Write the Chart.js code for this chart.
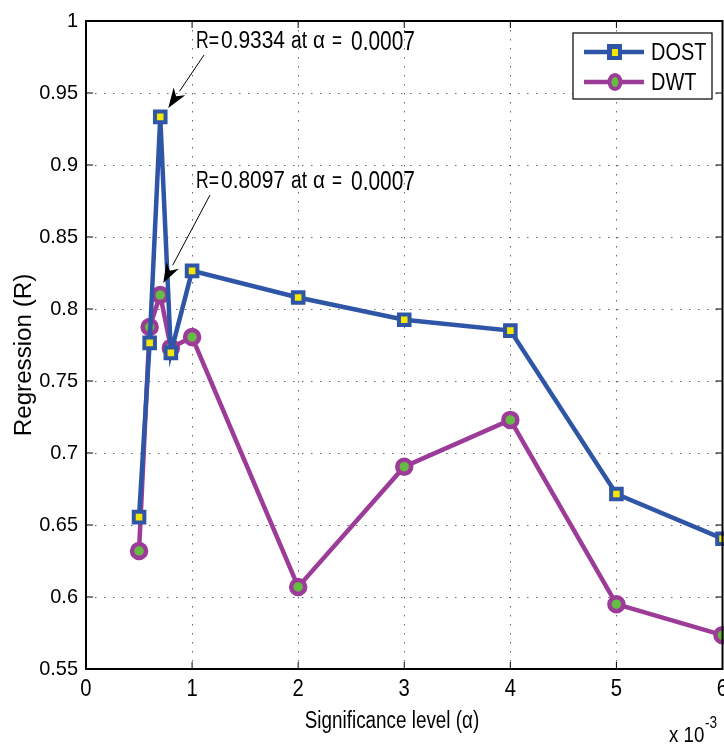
<!DOCTYPE html>
<html>
<head>
<meta charset="utf-8">
<script src="https://cdn.jsdelivr.net/npm/chart.js@4.4.1/dist/chart.umd.min.js"></script>
<style>
  html, body { margin: 0; padding: 0; background: #fff; overflow: hidden; }
  #wrap { width: 734px; height: 749px; }
</style>
</head>
<body>
<div id="wrap"><canvas id="regChart" width="734" height="749"></canvas></div>
<script>
  // significance level, in units of 10^-3
  const alphaVals = [0.5, 0.6, 0.7, 0.8, 1, 2, 3, 4, 5, 6];
  const dostR = [0.6555, 0.7765, 0.9334, 0.7695, 0.8265, 0.808, 0.7925, 0.785, 0.6715, 0.6405];
  const dwtR = [0.632, 0.7875, 0.8097, 0.773, 0.7805, 0.607, 0.6905, 0.723, 0.595, 0.5735];
  const xTicks = [0, 1, 2, 3, 4, 5, 6];
  const yTicks = [0.55, 0.6, 0.65, 0.7, 0.75, 0.8, 0.85, 0.9, 0.95, 1];

  const FONT = '"Liberation Sans", Arial, sans-serif';
  const BLUE = "#2f56a6", YELLOW = "#f4e800";
  const PURPLE = "#9c3c98", GREEN = "#66bb44";

  const toPts = (ys) => ys.map((y, i) => ({ x: alphaVals[i], y: y }));

  // squeezed text (MATLAB's Helvetica looks tall and narrow), returns drawn width
  function txt(ctx, s, x, y, size, sq, align, base) {
    ctx.save();
    ctx.font = size + "px " + FONT;
    ctx.textAlign = align || "left";
    ctx.textBaseline = base || "alphabetic";
    ctx.translate(x, y); ctx.scale(sq, 1);
    ctx.fillText(s, 0, 0);
    const w = ctx.measureText(s).width * sq;
    ctx.restore();
    return w;
  }

  // text stretched to fit between x1 and x2
  function fit(ctx, s, x1, x2, y, size) {
    ctx.save();
    ctx.font = size + "px " + FONT;
    const w = ctx.measureText(s).width;
    ctx.restore();
    txt(ctx, s, x1, y, size, (x2 - x1) / w);
  }

  function arrow(ctx, x1, y1, x2, y2) {
    const a = Math.atan2(y2 - y1, x2 - x1);
    const len = 20, w = 7;
    const bx = x2 - len * Math.cos(a), by = y2 - len * Math.sin(a);
    ctx.strokeStyle = "#000"; ctx.lineWidth = 1;
    ctx.beginPath(); ctx.moveTo(x1, y1); ctx.lineTo(bx, by); ctx.stroke();
    ctx.fillStyle = "#000";
    ctx.beginPath();
    ctx.moveTo(x2, y2);
    ctx.lineTo(bx + w * Math.sin(a), by - w * Math.cos(a));
    ctx.lineTo(x2 - (len - 6) * Math.cos(a), y2 - (len - 6) * Math.sin(a));
    ctx.lineTo(bx - w * Math.sin(a), by + w * Math.cos(a));
    ctx.closePath(); ctx.fill();
  }

  function label(ctx, y, r) {
    ctx.fillStyle = "#000";
    fit(ctx, "R=", 196, 219, y, 23);
    fit(ctx, r, 221, 285, y, 23);
    fit(ctx, "at", 291, 307, y, 23);
    fit(ctx, "\u03b1", 313, 325, y, 23);
    fit(ctx, "=", 332, 342, y, 23);
    fit(ctx, "0.0007", 351, 415, y + 2, 28);
  }

  const extras = {
    id: "extras",
    beforeDraw(chart) {
      const ctx = chart.ctx;
      ctx.save(); ctx.fillStyle = "#fff"; ctx.fillRect(0, 0, chart.width, chart.height); ctx.restore();
    },
    afterDatasetsDraw(chart) {
      const ctx = chart.ctx, a = chart.chartArea;
      const xs = chart.scales.x, ys = chart.scales.y;
      ctx.save();
      // box
      ctx.strokeStyle = "#000"; ctx.lineWidth = 2;
      ctx.strokeRect(a.left, a.top, a.right - a.left, a.bottom - a.top);
      // inward ticks + tick labels
      ctx.lineWidth = 1; ctx.fillStyle = "#000";
      xs.ticks.forEach(t => {
        const px = xs.getPixelForValue(t.value);
        ctx.beginPath(); ctx.moveTo(px, a.bottom); ctx.lineTo(px, a.bottom - 7);
        ctx.moveTo(px, a.top); ctx.lineTo(px, a.top + 7); ctx.stroke();
        txt(ctx, String(t.value), px, a.bottom + 21, 23, 0.88, "center", "middle");
      });
      ys.ticks.forEach(t => {
        const py = ys.getPixelForValue(t.value);
        ctx.beginPath(); ctx.moveTo(a.left, py); ctx.lineTo(a.left + 7, py);
        ctx.moveTo(a.right, py); ctx.lineTo(a.right - 7, py); ctx.stroke();
        txt(ctx, String(Number(t.value.toFixed(2))), a.left - 8, py, 21, 0.95, "right", "middle");
      });

      // annotations
      const p1x = xs.getPixelForValue(0.7), p1y = ys.getPixelForValue(0.9334);
      label(ctx, 48, "0.9334");
      arrow(ctx, 204, 55, p1x + 8, p1y - 9);
      const p2y = ys.getPixelForValue(0.8097);
      label(ctx, 188, "0.8097");
      arrow(ctx, 210, 195, p1x + 3, p2y - 12);

      // legend
      ctx.fillStyle = "#fff"; ctx.fillRect(573, 33, 139, 66);
      ctx.strokeStyle = "#000"; ctx.lineWidth = 1.2; ctx.strokeRect(573, 33, 139, 66);
      ctx.lineWidth = 4.5;
      ctx.strokeStyle = BLUE;
      ctx.beginPath(); ctx.moveTo(584, 52); ctx.lineTo(644, 52); ctx.stroke();
      ctx.fillStyle = BLUE; ctx.fillRect(607, 44, 15, 16);
      ctx.fillStyle = YELLOW; ctx.fillRect(612, 49, 6, 7);
      ctx.strokeStyle = PURPLE;
      ctx.beginPath(); ctx.moveTo(584, 82); ctx.lineTo(644, 82); ctx.stroke();
      ctx.beginPath(); ctx.ellipse(615, 82, 5.5, 7, 0, 0, Math.PI * 2);
      ctx.fillStyle = GREEN; ctx.fill(); ctx.lineWidth = 4; ctx.stroke();
      ctx.fillStyle = "#000";
      txt(ctx, "DOST", 651, 53, 24, 0.83, "left", "middle");
      txt(ctx, "DWT", 651, 83, 24, 0.83, "left", "middle");

      // axis titles
      txt(ctx, "Significance level (\u03b1)", 392, 722, 23, 0.82, "center", "middle");
      ctx.save(); ctx.translate(25, 355); ctx.rotate(-Math.PI / 2);
      txt(ctx, "Regression (R)", 0, 0, 23, 1.05, "center", "middle");
      ctx.restore();
      txt(ctx, "x 10", 669, 742, 22, 0.85);
      txt(ctx, "-3", 705, 728, 16, 0.85);
      ctx.restore();
    }
  };

  new Chart(document.getElementById("regChart"), {
    type: "line",
    data: {
      datasets: [{
        label: "DOST",
        data: toPts(dostR),
        borderColor: BLUE,
        borderWidth: 4.5,
        backgroundColor: YELLOW,
        pointStyle: "rect",
        pointRadius: 7.5,
        pointBorderWidth: 4,
        pointBorderColor: BLUE,
        pointBackgroundColor: YELLOW,
        tension: 0,
        clip: false
      }, {
        label: "DWT",
        data: toPts(dwtR),
        borderColor: PURPLE,
        borderWidth: 4.5,
        pointStyle: "circle",
        pointRadius: 7,
        pointBorderWidth: 4.5,
        pointBorderColor: PURPLE,
        pointBackgroundColor: GREEN,
        tension: 0,
        clip: false
      }]
    },
    options: {
      responsive: false,
      animation: false,
      layout: { padding: { top: 21, right: 0, left: 0, bottom: 0 } },
      plugins: { legend: { display: false }, tooltip: { enabled: false } },
      scales: {
        x: {
          type: "linear", min: 0, max: 6,
          afterFit: s => { s.height = 80; },
          afterBuildTicks: s => { s.ticks = xTicks.map(v => ({ value: v })); },
          grid: { color: "#666", drawTicks: false, lineWidth: 1 },
          border: { display: false, dash: [1.5, 7.5] },
          ticks: { display: false }
        },
        y: {
          min: 0.55, max: 1,
          afterFit: s => { s.width = 86; },
          afterBuildTicks: s => { s.ticks = yTicks.map(v => ({ value: v })); },
          grid: { color: "#666", drawTicks: false, lineWidth: 1 },
          border: { display: false, dash: [1.5, 7.5] },
          ticks: { display: false }
        }
      }
    },
    plugins: [extras]
  });
</script>
</body>
</html>
